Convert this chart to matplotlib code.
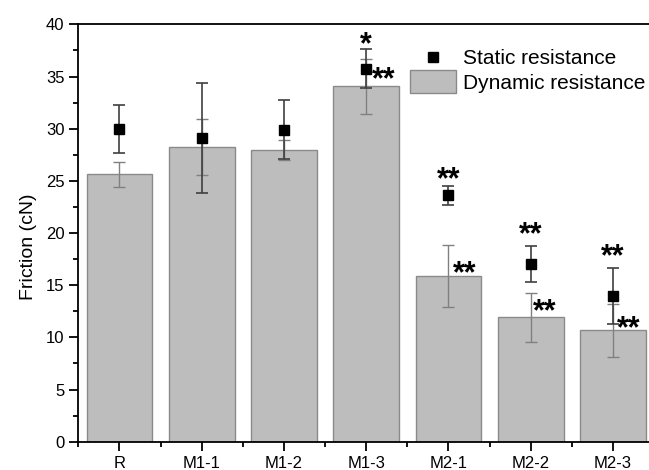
import matplotlib
matplotlib.use("Agg")
import matplotlib.pyplot as plt
import numpy as np
from matplotlib.ticker import MultipleLocator, FixedLocator
from matplotlib.transforms import offset_copy, Affine2D
from matplotlib.patches import Rectangle
from matplotlib.lines import Line2D

plt.rcParams['font.family'] = ['Liberation Sans', 'DejaVu Sans']

# Friction measurements (cN)
samples = ["R", "M1-1", "M1-2", "M1-3", "M2-1", "M2-2", "M2-3"]
dynamic_mean = [25.65, 28.25, 27.95, 34.05, 15.9, 11.92, 10.67]
dynamic_err = [1.2, 2.7, 0.95, 2.6, 3.0, 2.36, 2.52]
static_mean = [30.0, 29.1, 29.9, 35.75, 23.62, 17.02, 13.96]
static_err = [2.3, 5.3, 2.85, 1.85, 0.9, 1.72, 2.7]

# Significance marks: (x position, y of star centre, text, alignment)
sig_marks = [
    (3.0, 38.55, "*", "center"),
    (3.07, 35.25, "**", "left"),
    (4.0, 25.65, "**", "center"),
    (4.05, 16.62, "**", "left"),
    (5.0, 20.4, "**", "center"),
    (5.03, 13.0, "**", "left"),
    (6.0, 18.3, "**", "center"),
    (6.05, 11.34, "**", "left"),
]

W, H = 649, 470
fig = plt.figure(figsize=(W / 100, H / 100), dpi=100)
ax = fig.add_axes([0.1207, 0.0602, 0.887, 0.888])

bar_face = "#bdbdbd"
bar_edge = "#8a8a8a"

x = np.arange(len(samples))
ax.bar(x, dynamic_mean, width=0.8, color=bar_face, edgecolor=bar_edge,
       linewidth=1.0, zorder=2)
ax.errorbar(x, dynamic_mean, yerr=dynamic_err, fmt="none", ecolor="#808080",
            elinewidth=1.0, capsize=4.5, capthick=1.0, zorder=3)
ax.errorbar(x, static_mean, yerr=static_err, fmt="s", color="black",
            ecolor="#404040", elinewidth=1.2, capsize=4.5, capthick=1.2,
            markersize=6.5, zorder=4)

fs_star = 22
for xs, ys, txt, ha in sig_marks:
    tr = offset_copy(ax.transData, fig=fig, x=0, y=-0.58 * fs_star + 2.5, units="points")
    ax.text(xs, ys, txt, ha=ha, va="baseline", fontsize=fs_star,
            fontweight="bold", transform=tr, zorder=5)

ax.set_xlim(-0.5, 6.5)
ax.set_ylim(0, 40)
ax.set_xticks(x)
ax.set_xticklabels(samples)
ax.xaxis.set_minor_locator(FixedLocator(np.arange(-0.5, 7.0, 1.0)))
ax.yaxis.set_major_locator(MultipleLocator(5))
ax.yaxis.set_minor_locator(MultipleLocator(2.5))
ax.set_ylabel("Friction (cN)", fontsize=14, labelpad=6)
ax.yaxis.label.set_y(0.467)

for side in ["left", "bottom", "top"]:
    ax.spines[side].set_linewidth(1.3)
ax.spines["right"].set_visible(False)
ax.tick_params(axis="both", which="major", direction="out", length=6.5,
               width=1.3, labelsize=12, top=False, right=False)
ax.tick_params(axis="both", which="minor", direction="out", length=3.5,
               width=1.3, top=False, right=False)
ax.tick_params(axis="x", which="major", pad=4)

# Legend block, laid out in pixel coordinates measured from the top-left corner
px = Affine2D().scale(1 / W, -1 / H).translate(0, 1) + fig.transFigure
fig.add_artist(Line2D([433], [56.5], marker="s", color="black", markersize=6.5,
                      linestyle="none", transform=px))
fig.add_artist(Rectangle((410, 70), 46, 23, facecolor=bar_face, edgecolor=bar_edge,
                         linewidth=1.0, transform=px))
fig.text(463, 56.5, "Static resistance", transform=px, fontsize=15,
         ha="left", va="center_baseline")
fig.text(463, 81.5, "Dynamic resistance", transform=px, fontsize=15,
         ha="left", va="center_baseline")

fig.savefig("out.png", dpi=100)
